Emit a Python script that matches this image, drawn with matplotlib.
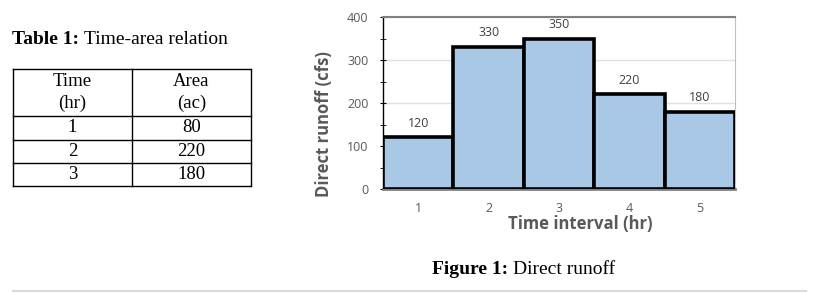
import numpy as np
import matplotlib.pyplot as plt

# table data
table_head = [["Time", "(hr)"], ["Area", "(ac)"]]
table_time = ["1", "2", "3"]
table_area = ["80", "220", "180"]

# chart data
intervals = [1, 2, 3, 4, 5]
runoff = [120, 330, 350, 220, 180]
yticks = [0, 100, 200, 300, 400]

W, H = 820, 294
fig = plt.figure(figsize=(W / 100, H / 100), dpi=100)

# overlay in pixel coordinates for the table and captions
bg = fig.add_axes([0, 0, 1, 1])
bg.set_xlim(0, W)
bg.set_ylim(H, 0)
bg.axis('off')

serif = 'Liberation Serif'
renderer = fig.canvas.get_renderer()


def caption(x, y, bold, rest, size):
    t = bg.text(x, y, bold + " ", fontfamily=serif, fontsize=size, fontweight='bold', va='center')
    bb = t.get_window_extent(renderer)
    bg.text(bb.x1, y, rest, fontfamily=serif, fontsize=size, va='center')


caption(12, 40, "Table 1:", "Time-area relation", 14)

x0, xm, x1 = 13, 132, 251
row_y = [69, 116, 140, 163, 186]
for y in row_y:
    bg.plot([x0, x1], [y, y], color='black', lw=1.0)
for x in (x0, xm, x1):
    bg.plot([x, x], [row_y[0], row_y[-1]], color='black', lw=1.0)
fs = 13.5
for cx, head in zip([(x0 + xm) / 2, (xm + x1) / 2], table_head):
    bg.text(cx, 82, head[0], fontfamily=serif, fontsize=fs, ha='center', va='center')
    bg.text(cx, 103, head[1], fontfamily=serif, fontsize=fs, ha='center', va='center')
for i, (t, a) in enumerate(zip(table_time, table_area)):
    cy = (row_y[i + 1] + row_y[i + 2]) / 2
    bg.text((x0 + xm) / 2, cy, t, fontfamily=serif, fontsize=fs, ha='center', va='center')
    bg.text((xm + x1) / 2, cy, a, fontfamily=serif, fontsize=fs, ha='center', va='center')

caption(432, 270, "Figure 1:", "Direct runoff", 14)
bg.plot([13, 806], [291, 291], color='#d9d9d9', lw=1.5)

# chart
ax = fig.add_axes([383 / W, (H - 189) / H, (735 - 383) / W, (189 - 17) / H])
ax.bar(intervals, runoff, width=1.0, color='#a9c8e6', edgecolor='black', linewidth=2.6, zorder=3)
for x, v in zip(intervals, runoff):
    ax.text(x, v + 18, str(v), ha='center', va='bottom', fontsize=9, color='#404040',
            fontfamily='Open Sans')

ax.set_xlim(0.5, 5.5)
ax.set_ylim(0, 400)
ax.set_yticks(yticks)
ax.set_yticks(np.arange(0, 401, 50), minor=True)
ax.set_xticks(intervals)
ax.grid(axis='y', color='#e0e0e0', lw=1, zorder=0)
ax.tick_params(axis='y', which='both', direction='inout', length=5, labelsize=9,
               labelcolor='#595959', pad=8)
ax.tick_params(axis='x', length=0, labelsize=9, labelcolor='#595959', pad=9)
for lab in ax.get_xticklabels() + ax.get_yticklabels():
    lab.set_fontfamily('Open Sans')
ax.spines['left'].set_color('black')
ax.spines['left'].set_linewidth(1)
ax.spines['bottom'].set_color('#808080')
ax.spines['bottom'].set_linewidth(2)
ax.spines['top'].set_color('#808080')
ax.spines['top'].set_linewidth(1.5)
ax.spines['right'].set_color('#bfbfbf')

ax.set_ylabel("Direct runoff (cfs)", fontsize=12, fontweight='bold', color='#595959',
              fontfamily='Open Sans', va='center')
ax.yaxis.set_label_coords(-0.168, 0.378)
ax.set_xlabel("Time interval (hr)", fontsize=12, fontweight='bold', color='#595959',
              fontfamily='Open Sans', va='center')
ax.xaxis.set_label_coords((580 - 383) / 352, -35 / 172)

fig.savefig('out.png', dpi=100)
